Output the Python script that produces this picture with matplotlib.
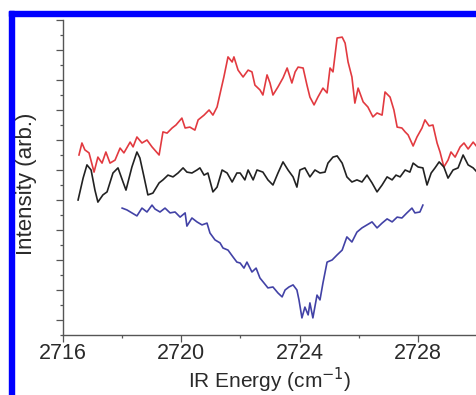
import matplotlib
matplotlib.use('Agg')
import matplotlib.pyplot as plt
from matplotlib.patches import Rectangle
from matplotlib.ticker import MultipleLocator, NullFormatter

plt.rcParams['font.family'] = ['Liberation Sans', 'DejaVu Sans']

# red trace (top)
red_x = [2716.54, 2716.64, 2716.74, 2716.88, 2717.05, 2717.18, 2717.32, 2717.45, 2717.59, 2717.76,
         2717.93, 2718.06, 2718.27, 2718.37, 2718.50, 2718.67, 2718.84, 2719.01, 2719.25, 2719.38,
         2719.52, 2719.69, 2719.82, 2720.02, 2720.13, 2720.29, 2720.46, 2720.57, 2720.77, 2720.94,
         2721.07, 2721.21, 2721.34, 2721.44, 2721.58, 2721.72, 2721.78, 2721.92, 2722.09, 2722.26,
         2722.39, 2722.49, 2722.66, 2722.76, 2722.90, 2723.00, 2723.10, 2723.27, 2723.44, 2723.58,
         2723.74, 2723.85, 2723.95, 2724.12, 2724.25, 2724.35, 2724.49, 2724.62, 2724.79, 2724.93,
         2725.03, 2725.13, 2725.27, 2725.44, 2725.54, 2725.64, 2725.77, 2725.87, 2725.98, 2726.15,
         2726.31, 2726.48, 2726.62, 2726.79, 2726.89, 2727.06, 2727.19, 2727.30, 2727.46, 2727.57,
         2727.67, 2727.84, 2727.97, 2728.14, 2728.24, 2728.38, 2728.51, 2728.65, 2728.75, 2728.88,
         2729.02, 2729.12, 2729.26, 2729.43, 2729.56, 2729.70, 2729.87, 2730.00]
red_y = [5.50, 5.90, 5.67, 5.57, 4.93, 5.43, 5.23, 5.60, 5.23, 5.33,
         5.73, 5.57, 5.93, 5.77, 6.10, 5.90, 6.00, 5.77, 5.50, 6.27,
         6.23, 6.40, 6.50, 6.73, 6.40, 6.43, 6.33, 6.67, 6.83, 7.00,
         6.83, 7.10, 7.67, 8.10, 8.77, 8.60, 8.77, 8.33, 8.10, 8.33,
         8.27, 7.83, 7.67, 7.50, 8.17, 7.90, 7.50, 7.77, 8.07, 8.40,
         7.90, 8.27, 8.43, 8.40, 7.83, 7.43, 7.17, 7.43, 7.73, 7.57,
         8.40, 8.27, 9.40, 9.43, 9.23, 8.60, 8.10, 7.23, 7.73, 7.27,
         7.10, 6.77, 6.90, 6.83, 7.60, 7.43, 7.00, 6.43, 6.40, 6.27,
         6.17, 5.80, 6.10, 6.40, 6.67, 6.47, 6.50, 5.90, 5.60, 5.10,
         5.33, 5.60, 5.43, 5.77, 5.90, 5.70, 5.93, 5.77]

# black trace (middle)
black_x = [2716.51, 2716.68, 2716.81, 2716.95, 2717.08, 2717.18, 2717.35, 2717.49, 2717.69, 2717.86,
           2718.03, 2718.13, 2718.33, 2718.50, 2718.60, 2718.74, 2718.87, 2719.04, 2719.25, 2719.38,
           2719.55, 2719.72, 2719.89, 2720.06, 2720.19, 2720.36, 2720.53, 2720.63, 2720.77, 2720.90,
           2721.07, 2721.21, 2721.38, 2721.55, 2721.72, 2721.88, 2721.99, 2722.15, 2722.26, 2722.43,
           2722.56, 2722.76, 2722.93, 2723.10, 2723.27, 2723.44, 2723.61, 2723.78, 2723.91, 2724.01,
           2724.18, 2724.35, 2724.52, 2724.69, 2724.86, 2724.96, 2725.13, 2725.27, 2725.44, 2725.60,
           2725.77, 2725.94, 2726.11, 2726.28, 2726.45, 2726.62, 2726.79, 2726.96, 2727.13, 2727.26,
           2727.40, 2727.57, 2727.73, 2727.84, 2728.01, 2728.17, 2728.31, 2728.45, 2728.58, 2728.72,
           2728.88, 2729.02, 2729.19, 2729.36, 2729.53, 2729.70, 2729.87, 2730.00]
black_y = [4.00, 4.73, 5.17, 5.00, 4.33, 3.93, 4.17, 4.27, 4.90, 5.07,
           4.60, 4.33, 5.10, 5.60, 5.40, 4.77, 4.17, 4.23, 4.57, 4.67,
           4.83, 4.77, 4.90, 5.07, 4.93, 4.90, 5.00, 5.07, 4.83, 4.90,
           4.27, 4.43, 5.00, 4.90, 4.60, 4.90, 4.90, 4.67, 5.00, 4.67,
           5.00, 4.93, 4.67, 4.50, 4.90, 5.27, 5.00, 4.77, 4.43, 5.00,
           5.07, 4.77, 5.00, 4.90, 4.93, 5.23, 5.43, 5.47, 5.23, 4.77,
           4.60, 4.67, 4.60, 4.83, 4.57, 4.27, 4.50, 4.77, 4.67, 4.83,
           4.77, 5.00, 4.93, 5.23, 5.10, 5.07, 4.50, 4.90, 5.07, 5.27,
           5.10, 4.73, 5.00, 5.07, 5.50, 5.17, 5.07, 4.93]

# blue trace (bottom, dip)
blue_x = [2718.00, 2718.16, 2718.33, 2718.50, 2718.67, 2718.84, 2719.01, 2719.11, 2719.28, 2719.45,
          2719.62, 2719.79, 2719.96, 2720.13, 2720.19, 2720.36, 2720.53, 2720.70, 2720.87, 2720.97,
          2721.14, 2721.31, 2721.41, 2721.58, 2721.75, 2721.88, 2721.99, 2722.12, 2722.22, 2722.39,
          2722.53, 2722.66, 2722.80, 2722.93, 2723.10, 2723.27, 2723.41, 2723.51, 2723.64, 2723.78,
          2723.91, 2723.98, 2724.08, 2724.18, 2724.29, 2724.35, 2724.45, 2724.59, 2724.69, 2724.79,
          2724.93, 2725.10, 2725.27, 2725.44, 2725.60, 2725.77, 2725.94, 2726.11, 2726.28, 2726.45,
          2726.62, 2726.79, 2726.96, 2727.13, 2727.30, 2727.46, 2727.63, 2727.80, 2727.90, 2728.07,
          2728.17]
blue_y = [3.73, 3.67, 3.57, 3.47, 3.73, 3.60, 3.83, 3.70, 3.60, 3.73,
          3.57, 3.60, 3.43, 3.57, 3.13, 3.40, 3.27, 3.17, 3.23, 2.90,
          2.67, 2.57, 2.40, 2.33, 2.10, 1.93, 1.90, 1.73, 1.93, 1.60,
          1.73, 1.40, 1.23, 1.07, 1.10, 0.90, 0.77, 1.00, 1.10, 1.17,
          1.00, 0.67, 0.07, 0.43, 0.17, 0.57, 0.07, 0.83, 0.67, 1.23,
          1.93, 2.00, 2.17, 2.33, 2.77, 2.60, 2.93, 3.07, 3.17, 3.27,
          3.07, 3.23, 3.37, 3.27, 3.43, 3.40, 3.57, 3.73, 3.57, 3.60,
          3.83]

x_ticks = [2716, 2720, 2724, 2728]

W, H = 477, 395
fig = plt.figure(figsize=(W / 100, H / 100), dpi=100)

# blue frame along top and left edge
fig.patches.append(Rectangle((9 / W, 1 - 16 / H), 1, 5 / H, transform=fig.transFigure,
                             color='#0000ff', zorder=5))
fig.patches.append(Rectangle((9 / W, 0), 5 / W, 1 - 11 / H, transform=fig.transFigure,
                             color='#0000ff', zorder=5))

ax = fig.add_axes([63 / W, 60 / H, 414 / W, 315 / H])
ax.plot(red_x, red_y, color='#e23a40', linewidth=1.2, clip_on=False)
ax.plot(black_x, black_y, color='#222222', linewidth=1.2, clip_on=False)
ax.plot(blue_x, blue_y, color='#4242a6', linewidth=1.2)

ax.set_xlim(2716, 2730)
ax.set_ylim(-0.5, 10)
ax.set_xticks(x_ticks)
ax.xaxis.set_minor_locator(MultipleLocator(2))
ax.yaxis.set_major_locator(MultipleLocator(1))
ax.yaxis.set_minor_locator(MultipleLocator(0.5))
ax.yaxis.set_major_formatter(NullFormatter())

for side in ('top', 'right'):
    ax.spines[side].set_visible(False)
for side in ('left', 'bottom'):
    ax.spines[side].set_color('#555555')
    ax.spines[side].set_linewidth(1.0)

ax.tick_params(which='major', direction='out', length=5, width=0.9, color='#555555',
               labelsize=15.5, labelcolor='#2a2a2a', pad=1)
ax.tick_params(which='minor', direction='out', length=2.5, width=0.9, color='#555555')

ax.set_xlabel('IR Energy (cm$^{-1}$)', fontsize=15, color='#2a2a2a', labelpad=1)
ax.set_ylabel('Intensity (arb.)', fontsize=16, color='#2a2a2a')
ax.yaxis.set_label_coords(-0.062, 0.479)

fig.savefig('out.png', dpi=100)
